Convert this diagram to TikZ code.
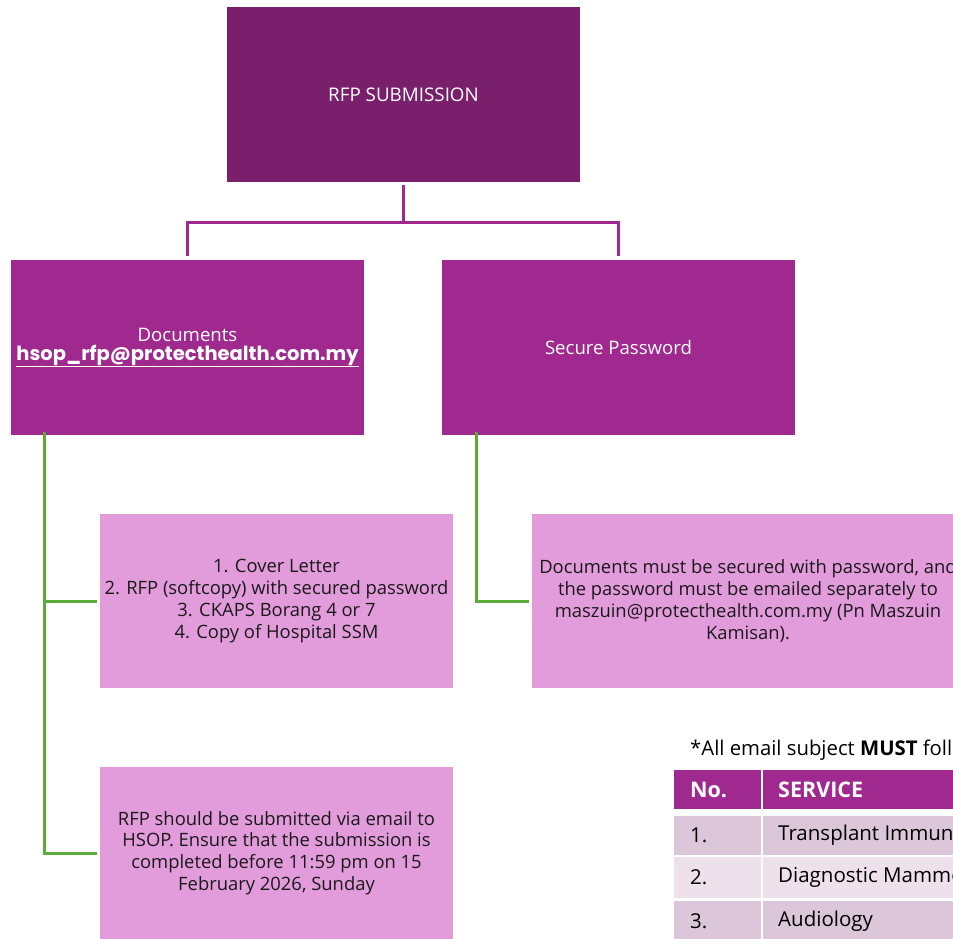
\documentclass[tikz,border=0pt]{standalone}
\usepackage{fontspec}
\setmainfont{Open Sans}
\newfontfamily\mailfont{Poppins}
\usetikzlibrary{positioning}

\definecolor{topplum}{HTML}{7A1F6B}
\definecolor{midplum}{HTML}{A0298F}
\definecolor{lightplum}{HTML}{E39CDB}
\definecolor{branchgreen}{HTML}{5BAA3A}
\definecolor{rowdark}{HTML}{DCC6DA}
\definecolor{rowlight}{HTML}{EEE1EC}

\begin{document}
\begin{tikzpicture}[x=1pt,y=-1pt,
		box/.style={inner sep=0pt, outer sep=0pt, align=center},
		topbox/.style={box, fill=topplum, text=white, minimum width=353pt, minimum height=175pt, font=\fontsize{18.8}{22}\selectfont},
		midbox/.style={box, fill=midplum, text=white, minimum width=353pt, minimum height=175pt, font=\fontsize{18.6}{21}\selectfont},
		infobox/.style={box, fill=lightplum, text=black!90, minimum height=174pt, font=\fontsize{18.4}{21.7}\selectfont},
		plumline/.style={draw=midplum, line width=3pt},
		greenline/.style={draw=branchgreen, line width=3pt},
		cell/.style={inner sep=0pt, outer sep=0pt, anchor=north west},
		celltext/.style={anchor=west, inner sep=0pt, font=\fontsize{20.5}{22}\selectfont}
	]
		% Fix the canvas and cut what runs off the page
		\useasboundingbox (0,0) rectangle (953,938);
		\clip (0,0) rectangle (953,938);
		
		% Main boxes
		\node[topbox] (submit) at (403.5,94.5) {RFP SUBMISSION};
		\node[midbox] (docs) at (187.5,347.5) {Documents\\[-2pt]{\mailfont\bfseries\fontsize{19.5}{21}\selectfont\underline{hsop\_rfp@protecthealth.com.my}}};
		\node[midbox] (pwd) at (618.5,347.5) {Secure Password};
		
		% Detail boxes
		\node[infobox, minimum width=353pt] (list) at (276.5,601) {1. Cover Letter\\2. RFP (softcopy) with secured password\\3. CKAPS Borang 4 or 7\\4. Copy of Hospital SSM};
		\node[infobox, minimum width=432pt] (note) at (748,601) {Documents must be secured with password, and\\the password must be emailed separately to\\maszuin@protecthealth.com.my (Pn Maszuin\\Kamisan).};
		\node[infobox, minimum width=353pt, minimum height=172pt] (deadline) at (276.5,853) {RFP should be submitted via email to\\HSOP. Ensure that the submission is\\completed before 11:59 pm on 15\\February 2026, Sunday};
		
		% Purple tree lines
		\draw[plumline, shorten <=3pt, shorten >=4pt] (submit.south) -- ++(0,40) -| (docs.north);
		\draw[plumline, shorten <=3pt, shorten >=4pt] (submit.south) -- ++(0,40) -| (pwd.north);
		
		% Green branch lines
		\coordinate (docsdrop) at ([xshift=33pt,yshift=3pt]docs.south west);
		\coordinate (pwddrop) at ([xshift=34pt,yshift=3pt]pwd.south west);
		\draw[greenline, shorten >=3pt] (docsdrop) |- (list.west);
		\draw[greenline, shorten >=3pt] (docsdrop) |- (deadline.west);
		\draw[greenline, shorten >=3pt] (pwddrop) |- (note.west);
		
		% Email subject table
		\node[anchor=base west, inner sep=0pt, font=\fontsize{20.3}{22}\selectfont] (hint) at (690,755) {*All email subject \textbf{MUST} follow the format below};
		\node[cell, fill=midplum, minimum width=87pt, minimum height=39pt] (hno) at (674,770) {};
		\node[cell, fill=midplum, minimum width=240pt, minimum height=39pt] (hsvc) at (763,770) {};
		\node[celltext, text=white, font=\fontsize{21.5}{22}\bfseries\selectfont] at ([xshift=16pt]hno.west) {No.};
		\node[celltext, text=white, font=\fontsize{21.5}{22}\bfseries\selectfont] at ([xshift=15pt]hsvc.west) {SERVICE};
		\foreach \n/\svc/\y/\h/\c in {1/Transplant Immunology/816/39/rowdark, 2/Diagnostic Mammography/857/41/rowlight, 3/Audiology/901/40/rowdark}{
			\node[cell, fill=\c, minimum width=87pt, minimum height=\h pt] (no\n) at (674,\y) {};
			\node[cell, fill=\c, minimum width=240pt, minimum height=\h pt] (svc\n) at (763,\y) {};
			\node[celltext] at ([xshift=16pt]no\n.west) {\n.};
			\node[celltext] at ([xshift=15pt]svc\n.west) {\svc};
		}
	\end{tikzpicture}
\end{document}
